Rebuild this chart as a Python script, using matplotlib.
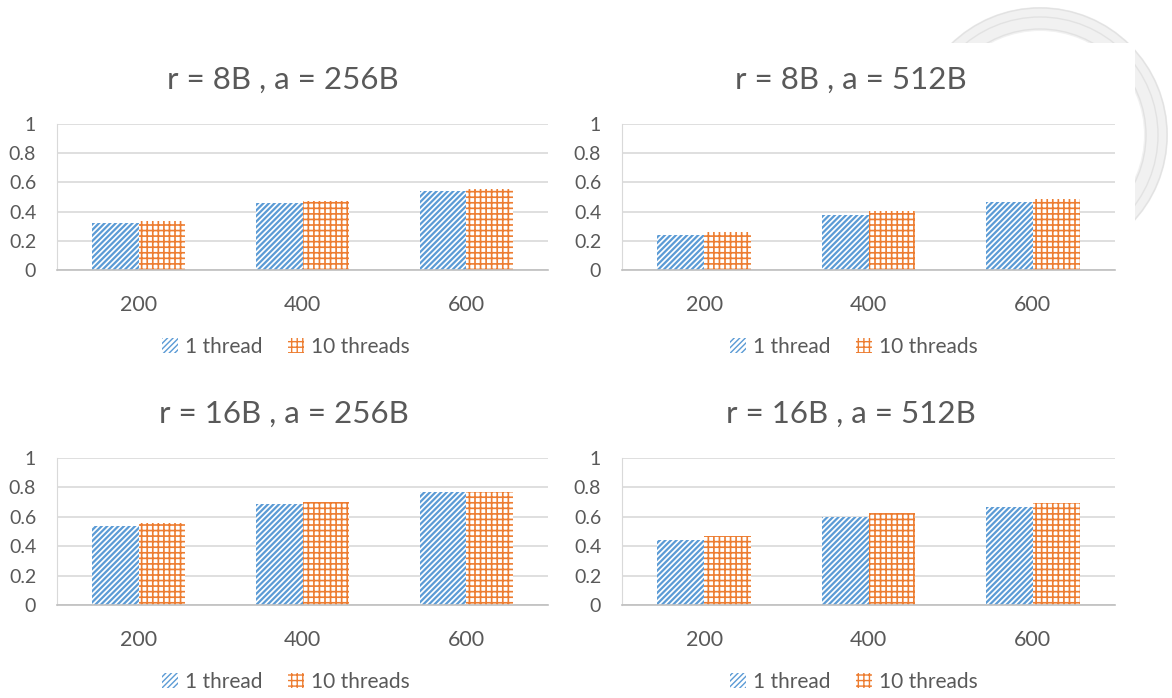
import matplotlib.pyplot as plt
from matplotlib.patches import Circle, Rectangle, Wedge
import numpy as np

sizes = ["200", "400", "600"]
titles = ["r = 8B , a = 256B", "r = 8B , a = 512B",
          "r = 16B , a = 256B", "r = 16B , a = 512B"]

r8_a256_1t = [0.320, 0.457, 0.543]
r8_a256_10t = [0.333, 0.473, 0.557]
r8_a512_1t = [0.240, 0.377, 0.466]
r8_a512_10t = [0.258, 0.406, 0.484]
r16_a256_1t = [0.539, 0.689, 0.770]
r16_a256_10t = [0.557, 0.700, 0.770]
r16_a512_1t = [0.439, 0.598, 0.668]
r16_a512_10t = [0.468, 0.627, 0.695]

one_thread = [r8_a256_1t, r8_a512_1t, r16_a256_1t, r16_a512_1t]
ten_threads = [r8_a256_10t, r8_a512_10t, r16_a256_10t, r16_a512_10t]

BLUE = "#5B9BD5"
ORANGE = "#ED7D31"
TEXT = "#595959"
GRID = "#D9D9D9"

plt.rcParams["font.family"] = ["Lato", "DejaVu Sans"]

W, H = 1172, 698
fig = plt.figure(figsize=(W / 100, H / 100), dpi=100)


def px_box(left, right, top, bottom):
    return [left / W, 1 - bottom / H, (right - left) / W, (bottom - top) / H]


# faint seal in the page background, mostly hidden behind the charts
bg = fig.add_axes([0, 0, 1, 1], zorder=-5)
bg.set_xlim(0, W)
bg.set_ylim(H, 0)
bg.set_aspect("equal")
bg.axis("off")
bg.add_patch(Wedge((1040, 135), 128, 0, 360, width=24, facecolor="#F1F1F1", edgecolor="none"))
for r in (127, 118, 106):
    bg.add_patch(Circle((1040, 135), r, facecolor="none", edgecolor="#E2E2E2", lw=1.0))
bg.add_patch(Rectangle((0, 43), 1135, H, facecolor="white", edgecolor="none"))

panels = [(57, 548, 124, 270), (622, 1115, 124, 270),
          (57, 548, 458, 605), (622, 1115, 458, 605)]
title_pos = [(283, 80), (851, 80), (284, 414), (851, 414)]
legend_pos = [(286, 347), (854, 347), (286, 682), (854, 682)]

x = np.arange(len(sizes))
bw = 0.285

for i, (box, t1, t10) in enumerate(zip(panels, one_thread, ten_threads)):
    ax = fig.add_axes(px_box(*box))
    b1 = ax.bar(x - bw / 2, t1, bw, facecolor="white", edgecolor=BLUE,
                linewidth=0, hatch="//////", label="1 thread", zorder=2)
    b10 = ax.bar(x + bw / 2, t10, bw, facecolor="white", edgecolor=ORANGE,
                 linewidth=0, hatch="+++", label="10 threads", zorder=2)
    for p in b1:
        if hasattr(p, "set_hatch_linewidth"):
            p.set_hatch_linewidth(1.6)
    for p in b10:
        if hasattr(p, "set_hatch_linewidth"):
            p.set_hatch_linewidth(1.2)

    ax.set_xlim(-0.5, 2.5)
    ax.set_ylim(0, 1)
    ax.set_yticks(np.arange(0, 1.01, 0.2))
    ax.set_yticklabels(["0", "0.2", "0.4", "0.6", "0.8", "1"])
    ax.set_xticks(x)
    ax.set_xticklabels(sizes)
    ax.tick_params(axis="y", length=0, pad=15, labelsize=14, labelcolor=TEXT)
    ax.tick_params(axis="x", length=0, pad=18, labelsize=15.5, labelcolor=TEXT)
    ax.yaxis.grid(True, color=GRID, linewidth=1.2, zorder=0)
    ax.set_axisbelow(True)
    for s in ["top", "right"]:
        ax.spines[s].set_visible(False)
    ax.spines["left"].set_color(GRID)
    ax.spines["bottom"].set_color("#BFBFBF")
    ax.spines["bottom"].set_linewidth(1.2)

    tx, ty = title_pos[i]
    fig.text(tx / W, 1 - ty / H, titles[i], ha="center", va="center",
             fontsize=22.5, color=TEXT)

    lx, ly = legend_pos[i]
    ax.legend(loc="center", bbox_to_anchor=(lx / W, 1 - ly / H),
              bbox_transform=fig.transFigure, ncol=2, frameon=False,
              fontsize=15, labelcolor=TEXT, handlelength=0.75, handleheight=0.75,
              handletextpad=0.35, columnspacing=1.2)

fig.savefig("out.png", dpi=100, facecolor="white")
